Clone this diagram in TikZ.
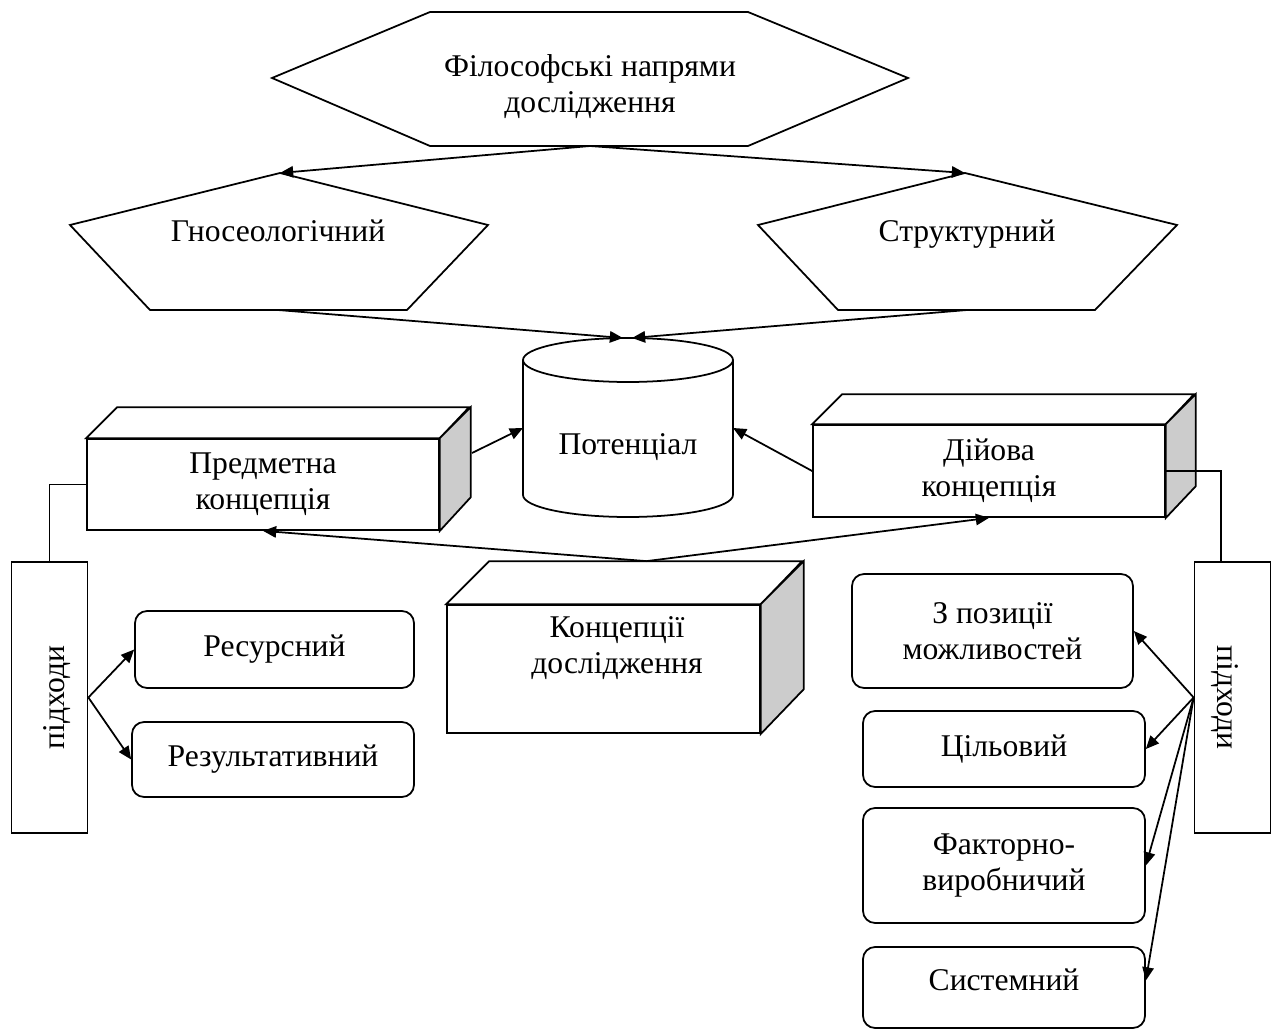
\documentclass[tikz,border=0pt]{standalone}
\usepackage{fontspec}
\setmainfont{Liberation Serif}
\usetikzlibrary{arrows.meta,calc}

\tikzset{
  txt/.style={font=\fontsize{18}{20.5}\selectfont,align=center,inner sep=0pt},
  line/.style={line width=1pt},
  arr/.style={line width=1pt,-{Triangle[length=7.5pt,width=6.5pt]}},
  front/.style={draw,line width=1pt,fill=white,txt},
  side/.style={draw,line width=1pt,fill=gray!40},
  rbox/.style={draw,line width=1pt,rounded corners=0.24cm,txt},
  tall/.style={draw,line width=1pt,minimum width=1.52cm,minimum height=5.42cm,txt}
}

\begin{document}
\begin{tikzpicture}[x=0.02cm,y=-0.02cm]
\useasboundingbox (0,0) rectangle (1272,1030);

% напрями
\draw[line] (272,78)--(430,12)--(748,12)--(908,78)--(748,146)--(430,146)--cycle;
\node[txt] (FN) at (590,87) {Філософські напрями\\дослідження};
\draw[line] (280,173)--(488,225)--(407,310)--(150,310)--(70,225)--cycle;
\node[txt,anchor=base] (GN) at (278,242) {Гносеологічний};
\draw[line] (965,173)--(1177,225)--(1095,310)--(838,310)--(758,225)--cycle;
\node[txt,anchor=base] (ST) at (967,242) {Структурний};
\coordinate (fn-b) at (590,146);
\coordinate (gn-t) at (280,173);
\coordinate (gn-b) at (278,310);
\coordinate (st-t) at (965,173);
\coordinate (st-b) at (967,310);

% потенціал
\draw[line,fill=white] (523,360) -- (523,495) arc[start angle=180,end angle=360,x radius=2.1cm,y radius=0.44cm] -- (733,360);
\draw[line,fill=white] (628,360) ellipse[x radius=2.1cm,y radius=0.44cm];
\node[txt,anchor=base] (Pt) at (628,455) {Потенціал};
\coordinate (pt-l) at (523,428);
\coordinate (pt-r) at (733,428);
\coordinate (pt-t) at (628,338);

% концепції
\node[front,minimum width=7.04cm,minimum height=1.82cm] (P) at (263,484.5) {Предметна\\концепція};
\draw[line,fill=white] (P.north west) -- ++(31,-31) -- ++(352,0) -- (P.north east) -- cycle;
\draw[side] (P.north east) -- ++(31,-31) -- ++(0,90) -- (P.south east) -- cycle;
\coordinate (P-s) at (472,453);

\node[front,minimum width=7.04cm,minimum height=1.84cm] (D) at (989,471) {Дійова\\концепція};
\draw[line,fill=white] (D.north west) -- ++(30,-30) -- ++(352,0) -- (D.north east) -- cycle;
\draw[side] (D.north east) -- ++(30,-30) -- ++(0,92) -- (D.south east) -- cycle;

\node[front,minimum width=6.26cm,minimum height=2.56cm] (K) at (603.5,669) {};
\draw[line,fill=white] (K.north west) -- ++(43,-43) -- ++(313,0) -- (K.north east) -- cycle;
\draw[side] (K.north east) -- ++(43,-43) -- ++(0,128) -- (K.south east) -- cycle;
\node[txt] (KT) at (617,648) {Концепції\\дослідження};
\coordinate (K-t) at ($(K.north)+(43,-43)$);

% підходи
\node[tall] (L1) at (49.5,697.5) {};
\node[txt,rotate=90] (L1T) at (57,697.5) {підходи};
\node[tall] (R1) at (1232.5,697.5) {};
\node[txt,rotate=-90] (R1T) at (1225,697.5) {підходи};
\coordinate (R1-j) at (1221,562);

\node[rbox,minimum width=5.58cm,minimum height=1.54cm] (Rs) at (274.5,649.5) {Ресурсний};
\node[rbox,minimum width=5.64cm,minimum height=1.5cm] (Rz) at (273,759.5) {Результативний};
\node[rbox,minimum width=5.62cm,minimum height=2.28cm] (Zp) at (992.5,631) {З позиції\\можливостей};
\node[rbox,minimum width=5.64cm,minimum height=1.52cm] (Ts) at (1004,749) {Цільовий};
\node[rbox,minimum width=5.64cm,minimum height=2.3cm] (Fv) at (1004,865.5) {Факторно-\\виробничий};
\node[rbox,minimum width=5.64cm,minimum height=1.62cm] (Sy) at (1004,987.5) {};
\node[txt,anchor=base] (SyT) at (1004,990) {Системний};

% зв'язки
\draw[arr] (fn-b) -- (gn-t);
\draw[arr] (fn-b) -- (st-t);
\draw[arr] (gn-b) -- ($(pt-t)+(-5,0)$);
\draw[arr] (st-b) -- ($(pt-t)+(4,0)$);
\draw[arr] (P-s) -- (pt-l);
\draw[arr] (D.west) -- (pt-r);
\draw[arr] (K-t) -- (P.south);
\draw[arr] (K-t) -- (D.south);
\draw[line] (P.west) -| (L1.north);
\draw[line] (D.east) -| (R1-j);
\draw[arr] (L1.east) -- (Rs.west);
\draw[arr] (L1.east) -- (Rz.west);
\foreach \b in {Zp,Ts,Fv}
  \draw[arr] (R1.west) -- (\b.east);
\draw[arr] (R1.west) -- ($(Sy.east)+(0,-7)$);
\end{tikzpicture}
\end{document}
